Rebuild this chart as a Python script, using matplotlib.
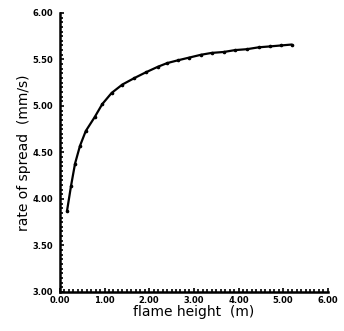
import matplotlib.pyplot as plt
import numpy as np
from matplotlib.ticker import MultipleLocator

height = [0.16, 0.25, 0.34, 0.45, 0.58, 0.78, 0.95, 1.16, 1.40, 1.67, 1.92, 2.19, 2.40, 2.64, 2.90, 3.16, 3.40, 3.67, 3.92, 4.19, 4.45, 4.71, 4.95, 5.19]
spread = [3.87, 4.14, 4.38, 4.57, 4.73, 4.88, 5.02, 5.14, 5.23, 5.30, 5.36, 5.42, 5.46, 5.49, 5.52, 5.55, 5.57, 5.58, 5.60, 5.61, 5.63, 5.64, 5.65, 5.66]
xticks = [0, 1, 2, 3, 4, 5, 6]
yticks = [3.0, 3.5, 4.0, 4.5, 5.0, 5.5, 6.0]

plt.rcParams['font.family'] = 'DejaVu Sans'
fig = plt.figure(figsize=(3.44, 3.31), dpi=100)
ax = fig.add_axes([0.174, 0.118, 0.779, 0.843])
ax.plot(height, spread, color='black', lw=1.6, marker='o', ms=1.6, solid_capstyle='round')
ax.set_xlim(0, 6)
ax.set_ylim(3, 6)
ax.set_xticks(xticks)
ax.set_yticks(yticks)
ax.set_xticklabels(['%.2f' % v for v in xticks], fontsize=6, fontweight='bold')
ax.set_yticklabels(['%.2f' % v for v in yticks], fontsize=6, fontweight='bold')
ax.xaxis.set_minor_locator(MultipleLocator(0.1))
ax.yaxis.set_minor_locator(MultipleLocator(0.05))
ax.tick_params(which='both', direction='in', width=1.2)
ax.tick_params(axis='x', pad=3)
ax.tick_params(axis='y', pad=5)
ax.tick_params(which='major', length=3)
ax.tick_params(which='minor', length=2)
for s in ['top', 'right']:
    ax.spines[s].set_visible(False)
for s in ['left', 'bottom']:
    ax.spines[s].set_linewidth(1.8)
ax.set_xlabel('flame height  (m)', fontsize=10, labelpad=0)
ax.set_ylabel('rate of spread  (mm/s)', fontsize=10, labelpad=1)
fig.savefig('out.png', dpi=100)
